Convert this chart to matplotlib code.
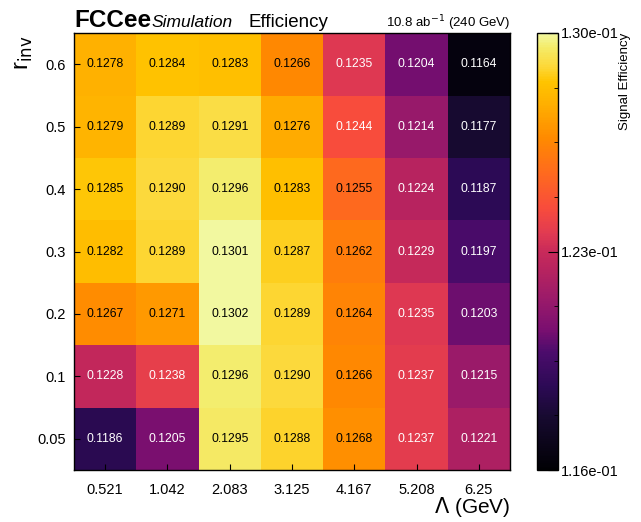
import matplotlib
matplotlib.use("Agg")
import matplotlib.pyplot as plt
from matplotlib.colors import LinearSegmentedColormap
import numpy as np

plt.rcParams['font.family'] = ['Liberation Sans', 'DejaVu Sans']

lambdas = ["0.521", "1.042", "2.083", "3.125", "4.167", "5.208", "6.25"]
rinv = ["0.05", "0.1", "0.2", "0.3", "0.4", "0.5", "0.6"]
# rows: rinv from 0.05 (bottom) to 0.6 (top)
eff_005 = [0.1186, 0.1205, 0.1295, 0.1288, 0.1268, 0.1237, 0.1221]
eff_01 = [0.1228, 0.1238, 0.1296, 0.1290, 0.1266, 0.1237, 0.1215]
eff_02 = [0.1267, 0.1271, 0.1302, 0.1289, 0.1264, 0.1235, 0.1203]
eff_03 = [0.1282, 0.1289, 0.1301, 0.1287, 0.1262, 0.1229, 0.1197]
eff_04 = [0.1285, 0.1290, 0.1296, 0.1283, 0.1255, 0.1224, 0.1187]
eff_05 = [0.1279, 0.1289, 0.1291, 0.1276, 0.1244, 0.1214, 0.1177]
eff_06 = [0.1278, 0.1284, 0.1283, 0.1266, 0.1235, 0.1204, 0.1164]

data = np.array([eff_005, eff_01, eff_02, eff_03, eff_04, eff_05, eff_06])
vmin, vmax = 0.116, 0.130

cmap_stops = [
    (0.00, "#000004"),
    (0.12, "#170a30"),
    (0.19, "#2c0a55"),
    (0.27, "#4c0c6c"),
    (0.32, "#7a0f70"),
    (0.39, "#9a1a6a"),
    (0.46, "#b8245f"),
    (0.50, "#c82a5a"),
    (0.54, "#e03a52"),
    (0.60, "#f84c3c"),
    (0.68, "#ff6a1e"),
    (0.76, "#ff8a00"),
    (0.84, "#ffb000"),
    (0.89, "#ffc400"),
    (0.925, "#fdd838"),
    (0.97, "#f4ec6a"),
    (1.00, "#f2f8a0"),
]
cmap = LinearSegmentedColormap.from_list("ref_inferno", cmap_stops, N=256)

fig = plt.figure(figsize=(6.41, 5.22), dpi=100)
ax = fig.add_axes([74/641, 1-470/522, 436/641, 437/522])
cax = fig.add_axes([537/641, 1-470/522, 21/641, 437/522])

im = ax.imshow(data, cmap=cmap, vmin=vmin, vmax=vmax, origin='lower',
               aspect='auto', extent=(-0.5, 6.5, -0.5, 6.5))

for i in range(data.shape[0]):
    for j in range(data.shape[1]):
        v = data[i, j]
        col = 'white' if v < 0.125 else 'black'
        ax.text(j, i, f"{v:.4f}", ha='center', va='center', fontsize=8.7, color=col)

ax.set_xticks(range(len(lambdas)))
ax.set_xticklabels(lambdas, fontsize=10.5)
ax.set_yticks(range(len(rinv)))
ax.set_yticklabels(rinv, fontsize=10.5)
ax.tick_params(direction='in', length=4, width=0.8)
ax.tick_params(axis='x', pad=9)
ax.tick_params(axis='y', pad=6)
for s in ax.spines.values():
    s.set_linewidth(1.0)

fig.text(510/641, 1-519/522, r"$\Lambda$ (GeV)", fontsize=15, ha='right', va='bottom')
fig.text(24/641, 1-36/522, r"r$_{\rm inv}$", fontsize=17, rotation=90,
         ha='center', va='top')

cb = fig.colorbar(im, cax=cax)
cb.set_ticks([0.116, 0.123, 0.130])
cb.set_ticklabels(["1.16e-01", "1.23e-01", "1.30e-01"])
cb.ax.set_yticks(np.linspace(0.116, 0.130, 9), minor=True)
cb.ax.tick_params(which='major', direction='in', length=7, labelsize=10.5, pad=2)
cb.ax.tick_params(which='minor', direction='in', length=3)
cb.outline.set_linewidth(1.0)
fig.text(625/641, 1-33/522, "Signal Efficiency", fontsize=9.5, rotation=90,
         ha='center', va='top')

fig.text(74/641, 1-27/522, "FCCee", fontsize=17.5, fontweight='bold', ha='left', va='baseline')
fig.text(152/641, 1-27/522, "Simulation", fontsize=12.5, style='italic', ha='left', va='baseline')
fig.text(249/641, 1-27/522, "Efficiency", fontsize=13.5, ha='left', va='baseline')
fig.text(510/641, 1-27/522, r"10.8 ab$^{-1}$ (240 GeV)", fontsize=9.5, ha='right', va='baseline')

fig.savefig("out.png", dpi=100)
